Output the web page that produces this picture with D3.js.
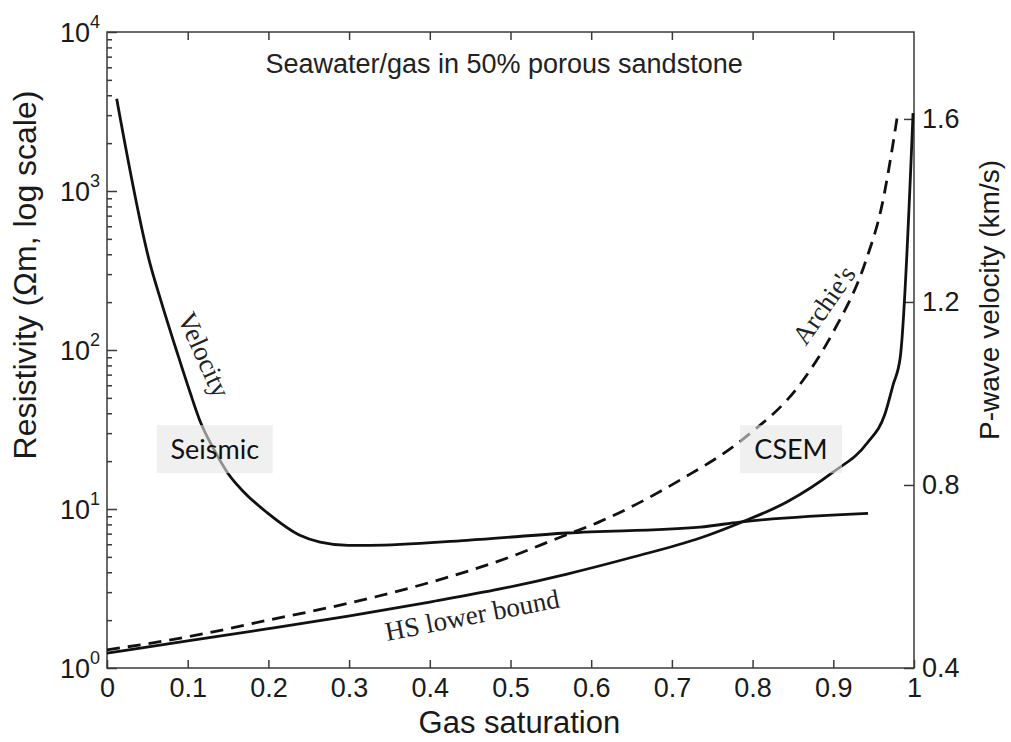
<!DOCTYPE html>
<html>
<head>
<meta charset="utf-8">
<script src="https://cdn.jsdelivr.net/npm/d3@7"></script>
<style>
  body { margin: 0; background: #fff; }
  svg { display: block; font-family: "Liberation Sans", Arial, sans-serif; }
  .axis line { stroke: #3a3a3a; stroke-width: 1.5; }
  .axis text { font-size: 27px; fill: #1a1a1a; font-family: "Liberation Sans", Arial, sans-serif; }
  .curve { fill: none; stroke: #111; stroke-width: 2.8; }
  .serif { font-family: "Liberation Serif", "Times New Roman", serif; font-size: 27px; fill: #222; }
</style>
</head>
<body>
<svg width="1011" height="742"></svg>
<script>
// tick values / labels
const satTicks = [0, 0.1, 0.2, 0.3, 0.4, 0.5, 0.6, 0.7, 0.8, 0.9, 1];
const satTickLabels = ["0", "0.1", "0.2", "0.3", "0.4", "0.5", "0.6", "0.7", "0.8", "0.9", "1"];
const resTicks = [1, 10, 100, 1000, 10000];
const resExponents = ["0", "1", "2", "3", "4"];
const velTicks = [0.4, 0.8, 1.2, 1.6];
const velTickLabels = ["0.4", "0.8", "1.2", "1.6"];

// P-wave velocity (km/s) vs gas saturation
const velSat = [0.012, 0.053, 0.068, 0.087, 0.103, 0.115, 0.133, 0.150, 0.171, 0.198, 0.239, 0.264, 0.299, 0.326, 0.446, 0.570, 0.735, 0.784, 0.943];
const velKms = [1.644, 1.286, 1.196, 1.089, 1.002, 0.941, 0.876, 0.825, 0.782, 0.740, 0.690, 0.675, 0.668, 0.668, 0.679, 0.695, 0.708, 0.719, 0.738];

// HS lower bound resistivity (ohm-m)
const hsSat = [0, 0.100, 0.198, 0.299, 0.400, 0.487, 0.570, 0.652, 0.735, 0.784, 0.843, 0.900, 0.942, 0.964, 0.974, 0.983, 0.9988];
const hsRes = [1.24, 1.48, 1.76, 2.12, 2.60, 3.14, 3.90, 4.99, 6.57, 8.17, 11.1, 17.1, 26.0, 39.6, 60.2, 90.3, 3090];

// Archie's law resistivity (ohm-m)
const archieSat = [0, 0.1, 0.2, 0.3, 0.4, 0.5, 0.56, 0.61, 0.71, 0.79, 0.86, 0.9, 0.94, 0.96, 0.98];
const archieRes = [1.3, 1.57, 2.0, 2.56, 3.45, 5.0, 6.6, 8.3, 15.2, 28, 62, 130, 360, 800, 3100];

const svg = d3.select("svg"),
      margin = { top: 32, right: 97, bottom: 74, left: 107 },
      width = +svg.attr("width") - margin.left - margin.right,
      height = +svg.attr("height") - margin.top - margin.bottom;

const chart = svg.append("g")
  .attr("transform", `translate(${margin.left},${margin.top})`);

const x = d3.scaleLinear().domain([0, 1]).range([0, width]);
const yRes = d3.scaleLog().domain([1, 1e4]).range([height, 0]);
const yVel = d3.scaleLinear().domain([0.4, 1.79]).range([height, 0]);

// axes (ticks point inward)
chart.append("g").attr("class", "axis")
  .attr("transform", `translate(0,${height})`)
  .call(d3.axisBottom(x).tickValues(satTicks).tickFormat((d, i) => satTickLabels[i])
    .tickSize(-8).tickPadding(10));

chart.append("g").attr("class", "axis")
  .call(d3.axisTop(x).tickValues(satTicks.slice(1, -1)).tickFormat("").tickSize(-8));

const minorRes = yRes.ticks().filter(d => !resTicks.includes(d));
chart.append("g").attr("class", "axis")
  .call(d3.axisLeft(yRes).tickValues(minorRes).tickFormat("").tickSize(-5));

chart.append("g").attr("class", "axis")
  .call(d3.axisLeft(yRes).tickValues(resTicks).tickSize(-10).tickPadding(7))
  .call(g => g.selectAll(".tick text").text(null).attr("dy", "0.36em")
    .each(function (d, i) {
      const t = d3.select(this);
      t.append("tspan").text("10");
      t.append("tspan").attr("dy", -14).style("font-size", "18px").text(resExponents[i]);
    }));

chart.append("g").attr("class", "axis")
  .attr("transform", `translate(${width},0)`)
  .call(d3.axisRight(yVel).tickValues(velTicks).tickFormat((d, i) => velTickLabels[i])
    .tickSize(-10).tickPadding(8));

chart.selectAll(".axis .domain").remove();

chart.append("rect")
  .attr("width", width).attr("height", height)
  .attr("fill", "none").attr("stroke", "#3a3a3a").attr("stroke-width", 1.5);

// curves
const velData = velSat.map((s, i) => ({ s, v: velKms[i] }));
const hsData = hsSat.map((s, i) => ({ s, v: hsRes[i] }));
const archieData = archieSat.map((s, i) => ({ s, v: archieRes[i] }));

const lineVel = d3.line().curve(d3.curveMonotoneX).x(d => x(d.s)).y(d => yVel(d.v));
const lineRes = d3.line().curve(d3.curveMonotoneX).x(d => x(d.s)).y(d => yRes(d.v));

chart.append("path").datum(velData).attr("class", "curve").attr("d", lineVel);
chart.append("path").datum(hsData).attr("class", "curve").attr("d", lineRes);
chart.append("path").datum(archieData).attr("class", "curve")
  .attr("stroke-dasharray", "13,8").attr("d", lineRes);

// curve labels
const curveLabels = [
  { text: "Velocity", s: 0.087, r: 160, angle: 65.7 },
  { text: "HS lower bound", s: 0.347, r: 1.48, angle: -11 },
  { text: "Archie's", s: 0.866, r: 105, angle: -55 }
];
chart.selectAll(".curve-label")
  .data(curveLabels)
  .enter().append("text")
  .attr("class", "serif")
  .attr("transform", d => `translate(${x(d.s)},${yRes(d.r)}) rotate(${d.angle})`)
  .text(d => d.text);

// grey annotation boxes
const boxes = [
  { text: "Seismic", s: 0.1335, r: 23.8, w: 116, h: 48 },
  { text: "CSEM", s: 0.8476, r: 23.8, w: 102, h: 48 }
];
const box = chart.selectAll(".box").data(boxes).enter().append("g")
  .attr("transform", d => `translate(${x(d.s)},${yRes(d.r)})`);
box.append("rect")
  .attr("x", d => -d.w / 2).attr("y", d => -d.h / 2)
  .attr("width", d => d.w).attr("height", d => d.h)
  .attr("fill", "rgb(230,230,230)").attr("fill-opacity", 0.6);
box.append("text")
  .attr("text-anchor", "middle").attr("y", 10)
  .style("font-family", "Lato, 'Open Sans', sans-serif").style("font-size", "27px").style("fill", "#111")
  .text(d => d.text);

// title and axis labels
chart.append("text")
  .attr("x", x(0.492)).attr("y", 41)
  .style("text-anchor", "middle").style("font-size", "27px").style("fill", "#222")
  .text("Seawater/gas in 50% porous sandstone");

chart.append("text")
  .attr("x", x(0.511)).attr("y", height + 65)
  .style("text-anchor", "middle").style("font-size", "31px").style("fill", "#1a1a1a")
  .text("Gas saturation");

chart.append("text")
  .attr("transform", "rotate(-90)")
  .attr("x", -243).attr("y", -71)
  .style("text-anchor", "middle").style("font-size", "32px").style("fill", "#1a1a1a")
  .text("Resistivity (\u03A9m, log scale)");

chart.append("text")
  .attr("transform", "rotate(-90)")
  .attr("x", -268).attr("y", width + 85)
  .style("text-anchor", "middle").style("font-size", "28px").style("fill", "#1a1a1a")
  .text("P-wave velocity (km/s)");
</script>
</body>
</html>
